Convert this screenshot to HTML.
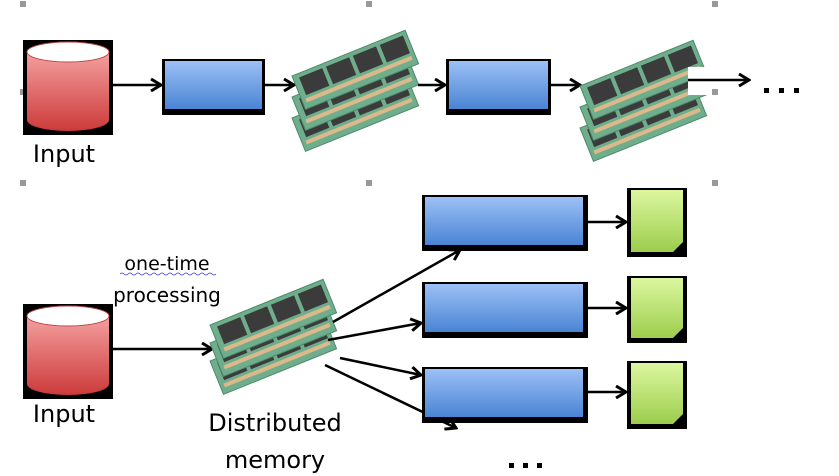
<!DOCTYPE html>
<html><head><meta charset="utf-8"><style>
html,body{margin:0;padding:0;background:#fff;width:839px;height:476px;overflow:hidden}
svg{display:block}
text{font-family:"DejaVu Sans","Liberation Sans",sans-serif;fill:#000}
</style></head><body>
<svg width="839" height="476" viewBox="0 0 839 476" xmlns="http://www.w3.org/2000/svg">
<defs>
<linearGradient id="red" x1="0" y1="0" x2="0" y2="1"><stop offset="0" stop-color="#f5a0a0"/><stop offset="1" stop-color="#cc3a3a"/></linearGradient>
<linearGradient id="blue" x1="0" y1="0" x2="0" y2="1"><stop offset="0" stop-color="#9cc0f6"/><stop offset="1" stop-color="#4a84d4"/></linearGradient>
<linearGradient id="green" x1="0" y1="0" x2="0" y2="1"><stop offset="0" stop-color="#dcf7a0"/><stop offset="1" stop-color="#9ccd4c"/></linearGradient>
<g id="stick">
<rect x="0" y="0" width="122" height="36" fill="#6fae8c" stroke="#4e8a6a" stroke-width="1"/>
<rect x="6" y="4" width="25" height="19" fill="#3b3b3b"/>
<rect x="35" y="4" width="25" height="19" fill="#3b3b3b"/>
<rect x="64" y="4" width="25" height="19" fill="#3b3b3b"/>
<rect x="93" y="4" width="25" height="19" fill="#3b3b3b"/>
<rect x="4" y="26" width="114" height="4" fill="#dcb88a"/>
</g>
<g id="cyl">
<rect x="0" y="0" width="90" height="95" fill="#000"/>
<path d="M4 12 L4 80 A41 11 0 0 0 86 80 L86 12 Z" fill="url(#red)"/>
<ellipse cx="45" cy="12" rx="41" ry="10" fill="#fff" stroke="#c04848" stroke-width="1"/>
</g>
<marker id="ah" markerWidth="14" markerHeight="14" refX="12" refY="7" orient="auto" markerUnits="userSpaceOnUse">
<path d="M2 1 L12 7 L2 13" fill="none" stroke="#000" stroke-width="3"/>
</marker>
</defs>

<g fill="#999">
<rect x="20" y="1" width="6" height="6"/><rect x="366" y="1" width="6" height="6"/><rect x="712" y="1" width="6" height="6"/>
<rect x="20" y="89" width="6" height="6"/><rect x="712" y="89" width="6" height="6"/>
<rect x="20" y="180" width="6" height="6"/><rect x="366" y="180" width="6" height="6"/><rect x="712" y="180" width="6" height="6"/>
</g>

<use href="#cyl" x="23" y="40"/>
<text x="64" y="162" font-size="24" text-anchor="middle">Input</text>
<line x1="110" y1="85" x2="161" y2="85" stroke="#000" stroke-width="2.5" marker-end="url(#ah)"/>
<rect x="162" y="59" width="103" height="56" fill="#000"/>
<rect x="165" y="61" width="97" height="48" fill="url(#blue)"/>
<line x1="265" y1="85" x2="294" y2="85" stroke="#000" stroke-width="2.5" marker-end="url(#ah)"/>
<g>
<use href="#stick" transform="translate(292,118) rotate(-22)"/>
<use href="#stick" transform="translate(292,97) rotate(-22)"/>
<use href="#stick" transform="translate(292,76) rotate(-22)"/>
</g>
<line x1="418" y1="85" x2="445" y2="85" stroke="#000" stroke-width="2.5" marker-end="url(#ah)"/>
<rect x="446" y="59" width="105" height="56" fill="#000"/>
<rect x="449" y="61" width="99" height="48" fill="url(#blue)"/>
<line x1="551" y1="85" x2="580" y2="85" stroke="#000" stroke-width="2.5" marker-end="url(#ah)"/>
<g>
<use href="#stick" transform="translate(580,128) rotate(-22)"/>
<use href="#stick" transform="translate(580,107) rotate(-22)"/>
<use href="#stick" transform="translate(580,86) rotate(-22)"/>
</g>
<rect x="688" y="67" width="32" height="28" fill="#fff"/>
<rect x="712" y="89" width="6" height="6" fill="#999"/>
<line x1="688" y1="80" x2="749" y2="80" stroke="#000" stroke-width="2.5" marker-end="url(#ah)"/>
<g fill="#000"><rect x="764" y="88" width="5" height="5"/><rect x="779" y="88" width="5" height="5"/><rect x="794" y="88" width="5" height="5"/></g>

<use href="#cyl" x="23" y="304"/>
<text x="64" y="422" font-size="24" text-anchor="middle">Input</text>
<text x="167" y="270" font-size="19" text-anchor="middle">one-time</text>
<path d="M120 274 q2 -2 4 0 q2 2 4 0 q2 -2 4 0 q2 2 4 0 q2 -2 4 0 q2 2 4 0 q2 -2 4 0 q2 2 4 0 q2 -2 4 0 q2 2 4 0 q2 -2 4 0 q2 2 4 0 q2 -2 4 0 q2 2 4 0 q2 -2 4 0 q2 2 4 0 q2 -2 4 0 q2 2 4 0 q2 -2 4 0 q2 2 4 0 q2 -2 4 0 q2 2 4 0 q2 -2 4 0 q2 2 4 0" fill="none" stroke="#3a3ae0" stroke-width="0.8"/>
<text x="167" y="302" font-size="20" text-anchor="middle">processing</text>
<line x1="113" y1="349" x2="212" y2="349" stroke="#000" stroke-width="2.5" marker-end="url(#ah)"/>
<g>
<use href="#stick" transform="translate(210,361) rotate(-22)"/>
<use href="#stick" transform="translate(210,343) rotate(-22)"/>
<use href="#stick" transform="translate(210,325) rotate(-22)"/>
</g>
<text x="275" y="431" font-size="24" text-anchor="middle">Distributed</text>
<text x="275" y="468" font-size="24" text-anchor="middle">memory</text>

<line x1="333" y1="322" x2="460" y2="250" stroke="#000" stroke-width="2.5" marker-end="url(#ah)"/>
<line x1="328" y1="340" x2="421" y2="323" stroke="#000" stroke-width="2.5" marker-end="url(#ah)"/>
<line x1="340" y1="358" x2="421" y2="375" stroke="#000" stroke-width="2.5" marker-end="url(#ah)"/>
<line x1="325" y1="365" x2="456" y2="428" stroke="#000" stroke-width="2.5" marker-end="url(#ah)"/>

<rect x="422" y="195" width="166" height="56" fill="#000"/>
<rect x="425" y="197" width="158" height="48" fill="url(#blue)"/>
<rect x="422" y="282" width="166" height="56" fill="#000"/>
<rect x="425" y="284" width="158" height="48" fill="url(#blue)"/>
<rect x="422" y="367" width="166" height="56" fill="#000"/>
<rect x="425" y="369" width="158" height="48" fill="url(#blue)"/>

<line x1="588" y1="222" x2="626" y2="222" stroke="#000" stroke-width="2.5" marker-end="url(#ah)"/>
<line x1="588" y1="308" x2="626" y2="308" stroke="#000" stroke-width="2.5" marker-end="url(#ah)"/>
<line x1="588" y1="392" x2="626" y2="392" stroke="#000" stroke-width="2.5" marker-end="url(#ah)"/>

<g>
<rect x="627" y="188" width="60" height="69" fill="#000"/>
<path d="M631 190 L683 190 L683 242 L673 252 L631 252 Z" fill="url(#green)"/>
<rect x="627" y="276" width="60" height="67" fill="#000"/>
<path d="M631 278 L683 278 L683 328 L673 338 L631 338 Z" fill="url(#green)"/>
<rect x="627" y="361" width="60" height="68" fill="#000"/>
<path d="M631 363 L683 363 L683 414 L673 424 L631 424 Z" fill="url(#green)"/>
</g>
<g fill="#000"><rect x="509" y="463" width="5" height="5"/><rect x="523" y="463" width="5" height="5"/><rect x="537" y="463" width="5" height="5"/></g>
</svg>
</body></html>
